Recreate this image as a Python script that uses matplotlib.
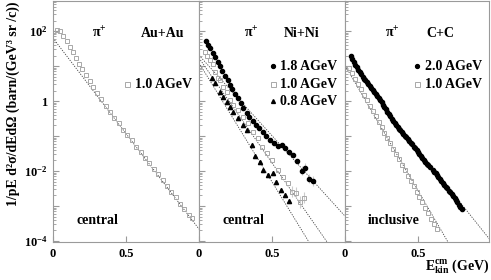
import matplotlib.pyplot as plt
import numpy as np

plt.rcParams['font.family'] = ['Liberation Serif', 'DejaVu Serif']
plt.rcParams['font.weight'] = 'bold'
plt.rcParams['mathtext.fontset'] = 'custom'
plt.rcParams['mathtext.rm'] = 'Liberation Serif:bold'
plt.rcParams['mathtext.it'] = 'Liberation Serif:bold'
plt.rcParams['mathtext.bf'] = 'Liberation Serif:bold'
plt.rcParams['mathtext.default'] = 'rm'

# ---- Au+Au 1.0 AGeV (log10 of cross section)
au_e = [0.03, 0.05, 0.07, 0.095, 0.115, 0.135, 0.16, 0.18, 0.20, 0.225, 0.25, 0.275,
        0.30, 0.33, 0.36, 0.39, 0.42, 0.45, 0.48, 0.51, 0.54, 0.57, 0.60, 0.63, 0.66,
        0.69, 0.72, 0.75, 0.78, 0.81, 0.84, 0.87, 0.90, 0.93, 0.95]
au_log = [2.02, 2.0, 1.87, 1.73, 1.55, 1.41, 1.22, 1.05, 0.92, 0.74, 0.57, 0.40,
          0.24, 0.05, -0.14, -0.31, -0.48, -0.64, -0.83, -0.96, -1.12, -1.30, -1.45,
          -1.62, -1.78, -1.95, -2.10, -2.27, -2.44, -2.60, -2.75, -2.93, -3.08, -3.25, -3.35]

# ---- Ni+Ni
ni18_e = [0.048, 0.062, 0.075, 0.096, 0.11, 0.13, 0.144, 0.158, 0.178, 0.199, 0.212,
          0.226, 0.247, 0.267, 0.288, 0.30, 0.329, 0.342, 0.37, 0.39, 0.41, 0.438,
          0.459, 0.486, 0.514, 0.54, 0.568, 0.589, 0.616, 0.644, 0.671, 0.705, 0.726,
          0.753, 0.78]
ni18_log = [1.72, 1.60, 1.51, 1.37, 1.26, 1.11, 1.0, 0.86, 0.71, 0.6, 0.46, 0.34, 0.2,
            0.09, -0.06, -0.2, -0.34, -0.46, -0.57, -0.69, -0.77, -0.89, -1.0, -1.11,
            -1.2, -1.29, -1.26, -1.34, -1.46, -1.54, -1.71, -2.0, -1.91, -2.23, -2.29]
ni10_e = [0.041, 0.055, 0.075, 0.096, 0.11, 0.13, 0.144, 0.164, 0.192, 0.212, 0.233,
          0.267, 0.30, 0.336, 0.37, 0.404, 0.432, 0.466, 0.50, 0.54, 0.575, 0.61,
          0.637, 0.664, 0.692, 0.719]
ni10_log = [1.40, 1.29, 1.17, 1.06, 0.83, 0.66, 0.6, 0.4, 0.26, 0.03, -0.11, -0.26,
            -0.46, -0.63, -0.89, -1.06, -1.31, -1.49, -1.69, -1.97, -2.17, -2.34,
            -2.6, -2.63, -2.89, -2.77]
ni08_e = [0.089, 0.11, 0.144, 0.164, 0.192, 0.212, 0.233, 0.267, 0.30, 0.329, 0.363,
          0.384, 0.418, 0.438, 0.473, 0.507, 0.527, 0.562, 0.589, 0.616]
ni08_log = [0.66, 0.51, 0.26, 0.11, -0.03, -0.17, -0.31, -0.49, -0.69, -0.83, -1.26,
            -1.57, -1.74, -1.97, -2.11, -2.06, -2.31, -2.54, -2.69, -2.86]

# ---- C+C
cc20_e = [0.04, 0.05, 0.06, 0.07, 0.08, 0.09, 0.10, 0.11, 0.12, 0.13, 0.14, 0.15, 0.16,
          0.17, 0.18, 0.19, 0.20, 0.21, 0.22, 0.23, 0.24, 0.25, 0.26, 0.27, 0.28, 0.29,
          0.30, 0.31, 0.32, 0.33, 0.34, 0.35, 0.36, 0.37, 0.38, 0.39, 0.40, 0.41, 0.42,
          0.43, 0.44, 0.45, 0.46, 0.47, 0.48, 0.49, 0.50, 0.51, 0.52, 0.53, 0.54, 0.55,
          0.56, 0.57, 0.58, 0.60, 0.61, 0.62, 0.63, 0.64, 0.65, 0.66, 0.67, 0.68, 0.69,
          0.70, 0.71, 0.72, 0.73, 0.74, 0.75, 0.76, 0.77, 0.78, 0.79, 0.80]
cc20_log = [1.30, 1.21, 1.12, 1.04, 0.96, 0.89, 0.82, 0.76, 0.70, 0.64, 0.59, 0.53, 0.48,
            0.42, 0.37, 0.31, 0.26, 0.20, 0.15, 0.09, 0.04, -0.03, -0.10, -0.17, -0.23,
            -0.30, -0.37, -0.44, -0.50, -0.57, -0.63, -0.69, -0.74, -0.79, -0.84, -0.89,
            -0.94, -0.99, -1.04, -1.09, -1.14, -1.19, -1.24, -1.30, -1.35, -1.41, -1.46,
            -1.52, -1.57, -1.63, -1.68, -1.74, -1.79, -1.84, -1.88, -1.97, -2.02, -2.07,
            -2.12, -2.18, -2.23, -2.29, -2.34, -2.40, -2.45, -2.50, -2.56, -2.61, -2.67,
            -2.72, -2.77, -2.83, -2.89, -2.96, -3.02, -3.08]
cc10_e = [0.03, 0.05, 0.07, 0.09, 0.11, 0.13, 0.15, 0.17, 0.19, 0.21, 0.23, 0.25, 0.27,
          0.29, 0.31, 0.33, 0.35, 0.37, 0.39, 0.41, 0.43, 0.45, 0.47, 0.49, 0.51, 0.53,
          0.55, 0.57, 0.59, 0.61, 0.63]
cc10_log = [0.95, 0.80, 0.64, 0.49, 0.33, 0.18, 0.03, -0.13, -0.28, -0.44, -0.59, -0.74,
            -0.90, -1.05, -1.21, -1.36, -1.51, -1.67, -1.82, -1.98, -2.13, -2.28, -2.44,
            -2.59, -2.75, -2.90, -3.05, -3.21, -3.36, -3.52, -3.67]

# fit lines: (E start, log start, E end, log end)
au_fit = (0.0, 1.80, 1.0, -3.66)
ni18_fit = (0.0, 1.31, 1.0, -3.29)
ni10_fit = (0.0, 1.23, 0.877, -4.03)
ni08_fit = (0.0, 1.09, 0.753, -4.03)
cc20_fit = (0.30, -0.35, 0.99, -3.95)
cc10_fit = (0.0, 1.02, 0.705, -4.03)

gray = '#9a9a9a'
W, H = 491, 280
fig = plt.figure(figsize=(W / 100, H / 100), dpi=100)
bottom = (H - 242) / H
height = 241 / H
lefts = [53, 199, 345]
widths = [146, 146, 144]
xmax = [1.0, 1.0, 0.986]
axes = []
for i in range(3):
    ax = fig.add_axes([lefts[i] / W, bottom, widths[i] / W, height])
    ax.set_yscale('log')
    ax.set_xlim(0, xmax[i])
    ax.set_ylim(10 ** -4.03, 10 ** 2.86)
    for s in ax.spines.values():
        s.set_color(gray)
        s.set_linewidth(0.8)
    ax.set_xticks([0, 0.5])
    ax.set_xticklabels(['0', '0.5'], fontsize=9, fontweight='bold')
    ax.set_yticks([10.0 ** k for k in range(-4, 3)])
    ax.tick_params(axis='both', which='both', direction='in', color=gray, pad=4)
    ax.tick_params(axis='both', which='major', length=4)
    ax.tick_params(axis='y', which='minor', length=2)
    if i == 0:
        ax.set_yticklabels(['10$^{-4}$', '', '10$^{-2}$', '', '1', '', '10$^{2}$'],
                           fontsize=9, fontweight='bold')
    else:
        ax.set_yticklabels([])
        ax.tick_params(axis='y', which='minor', labelleft=False)
    axes.append(ax)


def fit(ax, f):
    ax.plot([f[0], f[2]], [10 ** f[1], 10 ** f[3]], color='#444444', lw=0.6,
            ls=(0, (1.5, 1.5)))


def pw(v):
    return [10 ** x for x in v]


sq = dict(marker='s', ls='none', mfc='none', mec='#a8a8a8', ms=3.3, mew=0.7)
dot = dict(marker='o', ls='none', color='black', ms=3.0)
tri = dict(marker='^', ls='none', color='black', ms=3.0)
sq_leg = dict(sq, ms=3.6)
dot_leg = dict(dot, ms=2.8)
tri_leg = dict(tri, ms=2.8)

# left panel
ax = axes[0]
fit(ax, au_fit)
ax.plot(au_e, pw(au_log), **sq)
ax.text(0.32, 0.865, r'$\pi^{+}$', transform=ax.transAxes, fontsize=10, ha='center', va='center')
ax.text(0.75, 0.865, 'Au+Au', transform=ax.transAxes, fontsize=10, ha='center', va='center')
ax.plot([0.51], [0.655], transform=ax.transAxes, **sq_leg)
ax.text(0.56, 0.655, '1.0 AGeV', transform=ax.transAxes, fontsize=10, va='center')
ax.text(0.16, 0.09, 'central', transform=ax.transAxes, fontsize=10, va='center')

# middle panel
ax = axes[1]
for f in (ni18_fit, ni10_fit, ni08_fit):
    fit(ax, f)
ax.errorbar(ni18_e[-4:], pw(ni18_log[-4:]), yerr=[[10 ** v * 0.25 for v in ni18_log[-4:]],
            [10 ** v * 0.4 for v in ni18_log[-4:]]], fmt='none', ecolor='#cccccc', lw=0.8)
ax.errorbar(ni10_e[-4:], pw(ni10_log[-4:]), yerr=[[10 ** v * 0.3 for v in ni10_log[-4:]],
            [10 ** v * 0.5 for v in ni10_log[-4:]]], fmt='none', ecolor='#cccccc', lw=0.8)
ax.plot(ni18_e, pw(ni18_log), **dot)
ax.plot(ni10_e, pw(ni10_log), **sq)
ax.plot(ni08_e, pw(ni08_log), **tri)
ax.text(0.356, 0.865, r'$\pi^{+}$', transform=ax.transAxes, fontsize=10, ha='center', va='center')
ax.text(0.70, 0.865, 'Ni+Ni', transform=ax.transAxes, fontsize=10, ha='center', va='center')
ax.plot([0.505], [0.73], transform=ax.transAxes, **dot_leg)
ax.plot([0.505], [0.655], transform=ax.transAxes, **sq_leg)
ax.plot([0.505], [0.585], transform=ax.transAxes, **tri_leg)
ax.text(0.555, 0.73, '1.8 AGeV', transform=ax.transAxes, fontsize=10, va='center')
ax.text(0.555, 0.655, '1.0 AGeV', transform=ax.transAxes, fontsize=10, va='center')
ax.text(0.555, 0.585, '0.8 AGeV', transform=ax.transAxes, fontsize=10, va='center')
ax.text(0.158, 0.09, 'central', transform=ax.transAxes, fontsize=10, va='center')

# right panel
ax = axes[2]
fit(ax, cc10_fit)
fit(ax, cc20_fit)
ax.plot(cc10_e, pw(cc10_log), **sq)
ax.plot(cc20_e, pw(cc20_log), **dot)
ax.text(0.33, 0.865, r'$\pi^{+}$', transform=ax.transAxes, fontsize=10, ha='center', va='center')
ax.text(0.66, 0.865, 'C+C', transform=ax.transAxes, fontsize=10, ha='center', va='center')
ax.plot([0.50], [0.73], transform=ax.transAxes, **dot_leg)
ax.plot([0.50], [0.655], transform=ax.transAxes, **sq_leg)
ax.text(0.555, 0.73, '2.0 AGeV', transform=ax.transAxes, fontsize=10, va='center')
ax.text(0.555, 0.655, '1.0 AGeV', transform=ax.transAxes, fontsize=10, va='center')
ax.text(0.16, 0.09, 'inclusive', transform=ax.transAxes, fontsize=10, va='center')

fig.text(13 / W, (H - 104) / H, '1/pE d²σ/dEdΩ (barn/(GeV³ sr /c))', rotation=90,
         fontsize=10, ha='center', va='center')
fig.text(489 / W, (H - 266) / H, r'E$_{\mathrm{kin}}^{\mathrm{cm}}$ (GeV)', fontsize=10,
         ha='right', va='center')

fig.savefig('out.png', dpi=100)
